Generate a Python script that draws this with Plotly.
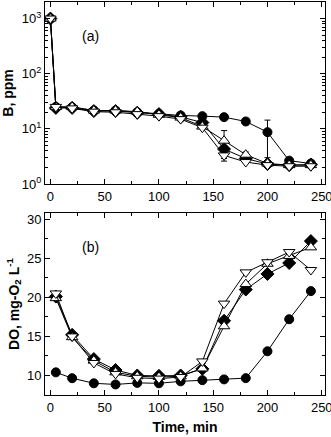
import plotly.graph_objects as go
from plotly.subplots import make_subplots

# sampling times (min)
time_a = [0, 5, 20, 40, 60, 80, 100, 120, 140, 160, 180, 200, 220, 240]
time_b = [5, 20, 40, 60, 80, 100, 120, 140, 160, 180, 200, 220, 240]

# panel (a): boron, ppm
b_circle = [1000, 25, 24.7, 21.5, 21.5, 20, 18.7, 17.5, 17.0, 16.3, 13.6, 8.7, 2.65, 2.35]
b_diamond = [1000, 24, 24, 21, 21, 19.5, 18.5, 16.5, 13.0, 4.3, 2.9, 2.3, 2.2, 2.25]
b_up = [1000, 25, 25, 21.5, 21.5, 20.5, 18, 16, 11.0, 6.1, 3.4, 2.35, 2.2, 2.2]
b_down = [1000, 25, 23.5, 20.5, 20, 18.5, 17, 15, 10.5, 3.3, 2.5, 2.2, 2.1, 2.1]

b_circle_err = [0, 0, 0, 0, 0, 0, 0, 0, 0, 0, 0, 5.7, 0, 0]
b_up_err = [0, 0, 0, 0, 0, 0, 0, 0, 0, 3.2, 0.4, 0, 0, 0]
b_down_err = [0, 0, 0, 0, 0, 0, 0, 1.5, 0, 0.7, 0, 0, 0, 0]

# panel (b): dissolved oxygen, mg-O2/L
do_circle = [10.4, 9.65, 9.0, 8.85, 9.05, 9.0, 9.25, 9.4, 9.5, 9.66, 13.1, 17.2, 20.8]
do_diamond = [20.1, 15.2, 12.1, 10.7, 10.0, 9.95, 10.0, 10.85, 17.0, 21.0, 23.0, 24.4, 27.2]
do_up = [19.9, 14.9, 11.9, 10.4, 9.9, 9.8, 9.9, 10.9, 16.3, 21.7, 24.3, 25.3, 26.4]
do_down = [20.5, 15.0, 11.6, 10.2, 9.7, 9.6, 9.8, 11.8, 19.2, 23.2, 24.5, 25.8, 23.5]

styles = [
    dict(symbol="circle", color="black", size=9),
    dict(symbol="diamond", color="black", size=10),
    dict(symbol="triangle-up", color="white", size=10),
    dict(symbol="triangle-down", color="white", size=10),
]

FONT = "Liberation Sans, Arial"

fig = make_subplots(rows=2, cols=1, vertical_spacing=0.0738)

series_a = [(b_circle, b_circle_err), (b_diamond, None), (b_up, b_up_err), (b_down, b_down_err)]
for (vals, err), st in zip(series_a, styles):
    trace = go.Scatter(
        x=time_a, y=vals, mode="lines+markers",
        line=dict(color="black", width=1),
        marker=dict(symbol=st["symbol"], size=st["size"], color=st["color"],
                    line=dict(color="black", width=1)),
        showlegend=False,
    )
    if err is not None:
        trace.error_y = dict(type="data", array=err, color="black", thickness=1, width=3)
    fig.add_trace(trace, row=1, col=1)

for vals, st in zip([do_circle, do_diamond, do_up, do_down], styles):
    fig.add_trace(go.Scatter(
        x=time_b, y=vals, mode="lines+markers",
        line=dict(color="black", width=1),
        marker=dict(symbol=st["symbol"], size=st["size"], color=st["color"],
                    line=dict(color="black", width=1)),
        showlegend=False,
    ), row=2, col=1)

axis_style = dict(
    showline=True, linecolor="black", linewidth=1, mirror="ticks",
    ticks="inside", ticklen=5, tickcolor="black", showgrid=False, zeroline=False,
    automargin=False,
    tickfont=dict(family=FONT, size=13, color="black"),
)

minor_log = [m * 10 ** e for e in range(0, 3) for m in range(2, 10)]

for r in (1, 2):
    fig.update_xaxes(range=[-5, 253], tickvals=[0, 50, 100, 150, 200, 250],
                     ticklabeloverflow="allow",
                     minor=dict(dtick=25, ticks="inside", ticklen=3, tickcolor="black"),
                     row=r, col=1, **axis_style)

fig.update_xaxes(title=dict(text="<b>Time, min</b>", standoff=8,
                            font=dict(family=FONT, size=14, color="black")),
                 row=2, col=1)

fig.update_yaxes(type="log", range=[0, 3.3], tickvals=[1, 10, 100, 1000],
                 ticktext=["10<sup>0</sup>", "10<sup>1</sup>", "10<sup>2</sup>", "10<sup>3</sup>"],
                 minor=dict(tickvals=minor_log, ticks="inside", ticklen=3, tickcolor="black"),
                 title=dict(text="<b>B, ppm</b>", standoff=4,
                            font=dict(family=FONT, size=14, color="black")),
                 row=1, col=1, **axis_style)

fig.update_yaxes(range=[7.5, 30.8], tickvals=[10, 15, 20, 25, 30],
                 minor=dict(dtick=2.5, tick0=0, ticks="inside", ticklen=3, tickcolor="black"),
                 title=dict(text="<b>DO, mg-O<sub>2</sub> L<sup>-1</sup></b>", standoff=4,
                            font=dict(family=FONT, size=14, color="black")),
                 row=2, col=1, **axis_style)

fig.add_annotation(text="(a)", xref="x domain", yref="y domain", x=0.125, y=0.87,
                   showarrow=False, font=dict(family=FONT, size=14, color="black"))
fig.add_annotation(text="(b)", xref="x2 domain", yref="y2 domain", x=0.125, y=0.87,
                   showarrow=False, font=dict(family=FONT, size=14, color="black"))

fig.update_layout(
    width=331, height=437,
    margin=dict(l=45, r=6, t=2, b=42),
    plot_bgcolor="white", paper_bgcolor="white",
)

# drop the default page margin so the 331x437 figure fills the window
fig.write_html("out.html", config={"displayModeBar": False},
               post_script="document.body.style.margin='0';")
